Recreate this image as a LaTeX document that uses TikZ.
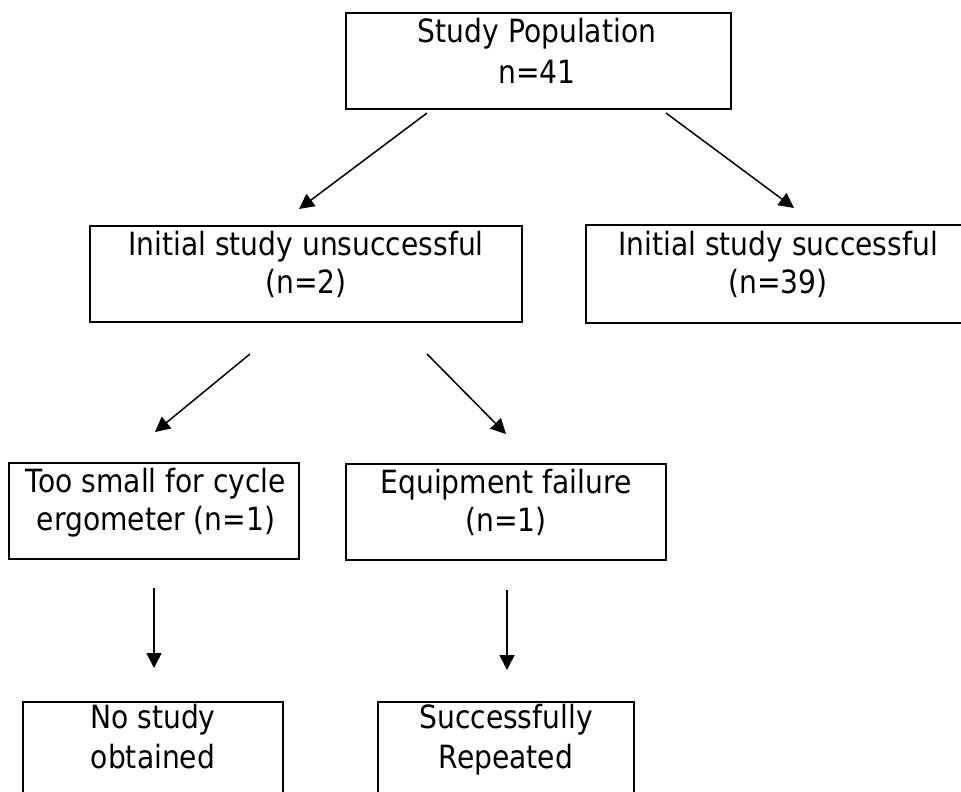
\documentclass[tikz,border=0pt]{standalone}
\usepackage{fontspec}
\setmainfont{DejaVu Sans}[FakeStretch=0.88]
\usetikzlibrary{arrows.meta}
\begin{document}
\begin{tikzpicture}[x=1pt,y=-1pt,
  box/.style={draw, line width=2pt, inner sep=0pt, outer sep=0pt},
  lbl/.style={anchor=base, inner sep=0pt, font=\fontsize{32}{40}\selectfont},
  arr/.style={-{Triangle[length=15pt,width=15pt]}, line width=1.5pt}]
\useasboundingbox (0,0) rectangle (961,792);
% boxes
\node[box, minimum width=385pt, minimum height=96pt] (b1) at (538.5,61) {};
\node[box, minimum width=432pt, minimum height=96pt] (b2) at (306,274) {};
\node[box, minimum width=385pt, minimum height=98pt] (b3) at (778.5,274) {};
\node[box, minimum width=290pt, minimum height=96pt] (b4) at (154,511) {};
\node[box, minimum width=320pt, minimum height=96pt] (b5) at (506,512) {};
\node[box, minimum width=260pt, minimum height=130pt] (b6) at (153,767) {};
\node[box, minimum width=256pt, minimum height=130pt] (b7) at (506,767) {};
% texts
\node[lbl] (t1a) at (537,43) {Study Population};
\node[lbl] (t1b) at (537,83) {n=41};
\node[lbl] (t2a) at (306,255) {Initial study unsuccessful};
\node[lbl] (t2b) at (306,293) {(n=2)};
\node[lbl] (t3a) at (778,255) {Initial study successful};
\node[lbl] (t3b) at (778,293) {(n=39)};
\node[lbl] (t4a) at (156,492) {Too small for cycle};
\node[lbl] (t4b) at (156,530) {ergometer (n=1)};
\node[lbl] (t5a) at (506,493) {Equipment failure};
\node[lbl] (t5b) at (506,531) {(n=1)};
\node[lbl] (t6a) at (153,728) {No study};
\node[lbl] (t6b) at (153,768) {obtained};
\node[lbl] (t7a) at (506,728) {Successfully};
\node[lbl] (t7b) at (506,768) {Repeated};
% arrow end points
\coordinate (a1s) at (427,113); \coordinate (a1e) at (299,209);
\coordinate (a2s) at (666,113); \coordinate (a2e) at (794,208);
\coordinate (a3s) at (250,354); \coordinate (a3e) at (155,432);
\coordinate (a4s) at (427,354); \coordinate (a4e) at (506,434);
\coordinate (a5s) at (154,588); \coordinate (a5e) at (154,668);
\coordinate (a6s) at (507,590); \coordinate (a6e) at (507,670);
\draw[arr] (a1s) -- (a1e);
\draw[arr] (a2s) -- (a2e);
\draw[arr] (a3s) -- (a3e);
\draw[arr] (a4s) -- (a4e);
\draw[arr] (a5s) -- (a5e);
\draw[arr] (a6s) -- (a6e);
\end{tikzpicture}
\end{document}
